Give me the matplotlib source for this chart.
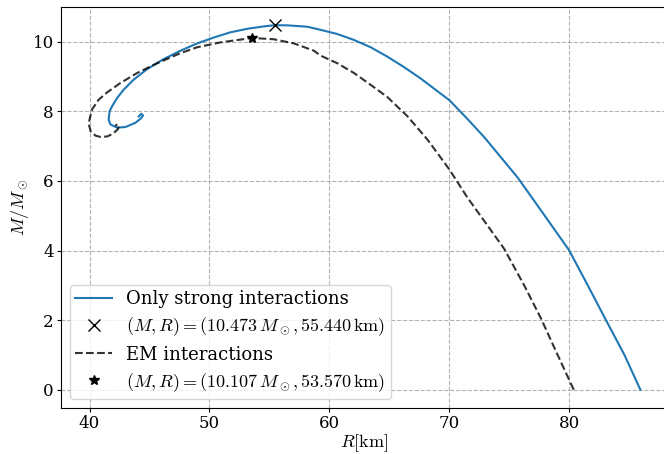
import numpy as np
import matplotlib
matplotlib.use('Agg')
import matplotlib.pyplot as plt

plt.rcParams['font.family'] = 'DejaVu Serif'
plt.rcParams['mathtext.fontset'] = 'cm'

# Only strong interactions (R in km, M in solar masses)
R_strong = [85.93, 84.6, 83.06, 81.54, 80.0, 77.36, 75.69, 72.9, 71.51, 70.0,
            69.0, 67.62, 66.22, 64.83, 63.44, 62.05, 60.66, 59.27, 58.15, 56.48,
            55.44, 54.53, 53.14, 51.75, 50.36, 48.97, 47.57, 46.18, 44.79, 43.68,
            42.84, 42.29, 41.87, 41.67, 41.59, 41.75, 42.29, 43.0, 43.82, 44.3,
            44.46, 44.3, 44.1]
M_strong = [0.0, 1.0, 2.0, 3.0, 4.0, 5.29, 6.1, 7.26, 7.78, 8.32,
            8.58, 8.94, 9.27, 9.57, 9.84, 10.05, 10.22, 10.34, 10.43, 10.47,
            10.473, 10.44, 10.37, 10.27, 10.12, 9.95, 9.74, 9.5, 9.21, 8.91,
            8.62, 8.38, 8.14, 8.0, 7.76, 7.62, 7.53, 7.55, 7.67, 7.8,
            7.88, 7.93, 7.85]

# EM interactions
R_em = [80.37, 79.03, 77.64, 76.24, 74.57, 73.18, 71.51, 70.0, 68.17, 66.5,
        64.83, 63.44, 62.05, 60.66, 59.27, 58.71, 57.04, 55.37, 53.57, 50.91,
        48.97, 47.57, 45.63, 43.96, 42.56, 41.45, 40.75, 40.2, 39.92, 40.1,
        40.5, 40.95, 41.5, 41.95, 42.35, 42.45, 42.3, 42.15]
M_em = [0.0, 1.0, 2.05, 3.0, 4.05, 4.72, 5.52, 6.33, 7.19, 7.86,
        8.41, 8.76, 9.1, 9.38, 9.6, 9.74, 9.95, 10.07, 10.107, 9.98,
        9.84, 9.67, 9.38, 9.1, 8.81, 8.54, 8.33, 8.05, 7.65, 7.42,
        7.3, 7.26, 7.28, 7.36, 7.48, 7.58, 7.63, 7.58]

# maximum mass points
R_max_strong, M_max_strong = 55.440, 10.473
R_max_em, M_max_em = 53.570, 10.107

fig = plt.figure(figsize=(6.64, 4.54), dpi=100)
ax = fig.add_axes([61/664, 46/454, 607/664, 401/454])

ax.plot(R_strong, M_strong, color='C0', lw=1.5, label='Only strong interactions')
ax.plot(R_max_strong, M_max_strong, 'kx', ms=8, ls='none',
        label=r'$(M,R) = (10.473\,M_\odot, 55.440\,\mathrm{km})$')
ax.plot(R_em, M_em, color='k', alpha=0.8, ls='--', lw=1.5, label='EM interactions')
ax.plot(R_max_em, M_max_em, 'k*', ms=7, ls='none',
        label=r'$(M,R) = (10.107\,M_\odot, 53.570\,\mathrm{km})$')

ax.set_xlabel(r'$R[\mathrm{km}]$', fontsize=13, labelpad=0)
ax.set_ylabel(r'$M/M_\odot$', fontsize=13, labelpad=1)
ax.tick_params(labelsize=12, length=2.6, pad=2.6)
ax.set_xticks([40, 50, 60, 70, 80])
ax.set_yticks([0, 2, 4, 6, 8, 10])
ax.grid(True, ls='--', color='gray', alpha=0.6)
ax.legend(loc='lower left', fontsize=13, labelspacing=0.4, borderpad=0.3)

plt.savefig('out.png', dpi=100, facecolor='white')
